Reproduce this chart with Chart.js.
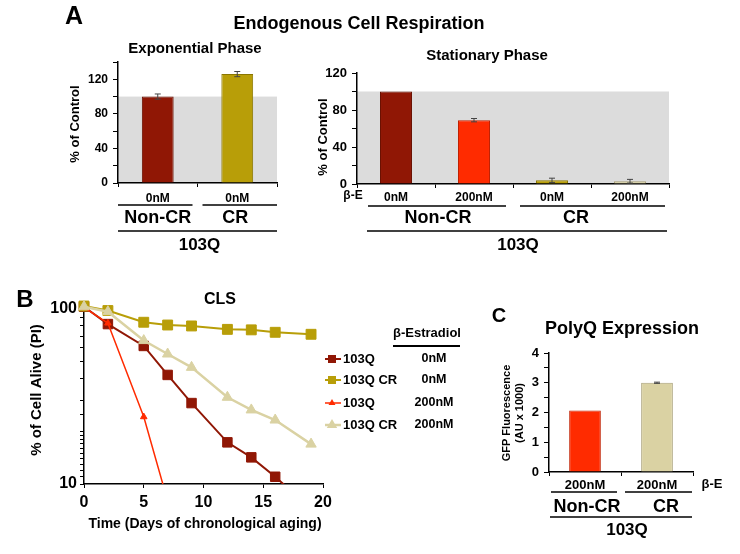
<!DOCTYPE html>
<html>
<head>
<meta charset="utf-8">
<script src="https://cdn.jsdelivr.net/npm/chart.js@4/dist/chart.umd.min.js"></script>
<style>
html, body { margin: 0; padding: 0; background: #fff; }
#wrap { position: relative; width: 740px; height: 554px; }
canvas { position: absolute; left: 0; top: 0; }
</style>
</head>
<body>
<div id="wrap">
  <canvas id="cExp" width="740" height="554"></canvas>
  <canvas id="cStat" width="740" height="554"></canvas>
  <canvas id="cCls" width="740" height="554"></canvas>
  <canvas id="cPoly" width="740" height="554"></canvas>
</div>
<script>
// ---- data ----
const strainLabel = '103Q';

const expLabels = ['0nM', '0nM'];
const expGroups = ['Non-CR', 'CR'];
const expValues = [100, 126];
const expErrors = [3, 3];

const statLabels = ['0nM', '200nM', '0nM', '200nM'];
const statGroups = ['Non-CR', 'CR'];
const statValues = [100, 69, 4, 3];
const statErrors = [0, 1.8, 2.3, 2];

const clsDays = [0, 2, 5, 7, 9, 12, 14, 16, 19];
const cls103Q = [103, 82, 61.5, 42, 29, 17.3, 14.2, 11, 7.2];
const cls103QCR = [104, 98, 84, 81, 80, 76.5, 76, 73.6, 71.7];
const cls103QBE = [102, 83, 24.2, 8];
const cls103QCRBE = [103, 96.5, 66, 55.3, 46.4, 31.3, 26.5, 23.2, 16.9];
const clsNames = ['103Q', '103Q CR', '103Q', '103Q CR'];
const clsDoses = ['0nM', '0nM', '200nM', '200nM'];

const polyLabels = ['200nM', '200nM'];
const polyGroups = ['Non-CR', 'CR'];
const polyValues = [2.07, 3.0];
const polyErrors = [0, 0.02];

// colours
const DARKRED = '#901705', OLIVE = '#B89E08', RED = '#FF2B00', BEIGE = '#DAD2A3';

const FONT = '"Liberation Sans", Arial, Helvetica, sans-serif';
Chart.defaults.font.family = FONT;
Chart.defaults.font.weight = 'bold';
Chart.defaults.color = '#000';
Chart.defaults.animation = false;
Chart.defaults.plugins.legend.display = false;
Chart.defaults.plugins.tooltip.enabled = false;

function txt(ctx, s, x, y, size, align, rot) {
  ctx.save();
  ctx.font = 'bold ' + size + 'px ' + FONT;
  ctx.fillStyle = '#000';
  ctx.textAlign = align || 'center';
  ctx.textBaseline = 'middle';
  ctx.translate(x, y);
  if (rot) ctx.rotate(rot);
  ctx.fillText(s, 0, 0);
  ctx.restore();
}

function hline(ctx, x1, x2, y, w) {
  ctx.save();
  ctx.strokeStyle = '#000';
  ctx.lineWidth = w || 1.5;
  ctx.beginPath();
  ctx.moveTo(x1, y);
  ctx.lineTo(x2, y);
  ctx.stroke();
  ctx.restore();
}

// group labels and lines under a bar chart
function drawGroups(chart, groups, o) {
  const ctx = chart.ctx, x = chart.scales.x, area = chart.chartArea, b = area.bottom;
  const per = x.ticks.length / groups.length;
  const half = (x.getPixelForValue(1) - x.getPixelForValue(0)) / 2;
  groups.forEach((g, i) => {
    const x1 = x.getPixelForValue(i * per) - half;
    const x2 = x.getPixelForValue((i + 1) * per - 1) + half;
    const l = x1 + (i === 0 ? o.outL : o.inner);
    const r = x2 - (i === groups.length - 1 ? o.outR : o.inner);
    hline(ctx, l, r, b + o.dy[0]);
    txt(ctx, g, (x1 + x2) / 2 + o.gx[i], b + o.dy[1], 18);
  });
  hline(ctx, area.left + o.l2[0], area.right - o.l2[1], b + o.dy[2]);
  txt(ctx, strainLabel, (area.left + area.right) / 2 + o.sx, b + o.dy[3], 17);
}

const bandPlugin = {
  id: 'band',
  beforeDraw(chart) {
    const y = chart.scales.y, a = chart.chartArea, ctx = chart.ctx;
    ctx.save();
    ctx.fillStyle = '#DCDCDC';
    ctx.fillRect(a.left, y.getPixelForValue(100), a.right - a.left, y.getPixelForValue(0) - y.getPixelForValue(100));
    ctx.restore();
  }
};

function errPlugin(values, errors) {
  return {
    id: 'err',
    afterDatasetsDraw(chart) {
      const ctx = chart.ctx, y = chart.scales.y;
      const meta = chart.getDatasetMeta(0);
      ctx.save();
      ctx.strokeStyle = '#444';
      ctx.lineWidth = 1;
      meta.data.forEach((bar, i) => {
        if (!errors[i]) return;
        const top = y.getPixelForValue(values[i] + errors[i]);
        const bot = y.getPixelForValue(values[i] - errors[i]);
        ctx.beginPath();
        ctx.moveTo(bar.x, top); ctx.lineTo(bar.x, bot);
        ctx.moveTo(bar.x - 3, top); ctx.lineTo(bar.x + 3, top);
        ctx.moveTo(bar.x - 3, bot); ctx.lineTo(bar.x + 3, bot);
        ctx.stroke();
      });
      ctx.restore();
    }
  };
}

function barChart(id, o) {
  return new Chart(document.getElementById(id), {
    type: 'bar',
    data: {
      labels: o.labels,
      datasets: [{
        data: o.values,
        backgroundColor: o.colors,
        borderColor: o.borders,
        borderWidth: 1,
        barPercentage: o.barPct,
        categoryPercentage: 1
      }]
    },
    options: {
      responsive: false,
      devicePixelRatio: 1,
      layout: { padding: o.pad },
      scales: {
        x: {
          grid: { offset: true, drawOnChartArea: false, color: '#000', tickLength: 4 },
          border: { color: '#000', width: 1.5 },
          ticks: { font: { size: o.xSize, weight: 'bold' }, padding: o.xPad, maxRotation: 0, autoSkip: false },
          afterFit: s => { s.height = 20; }
        },
        y: {
          min: 0, max: o.max,
          grid: { drawOnChartArea: false, color: '#000', tickLength: 5 },
          border: { color: '#000', width: 1.5 },
          ticks: { stepSize: o.step, autoSkip: false, padding: 5, font: { size: o.ySize, weight: 'bold' },
                   callback: v => (o.show(v) ? String(v) : '') },
          afterFit: s => { s.width = 40; }
        }
      }
    },
    plugins: o.plugins
  });
}

// ---- A: exponential phase ----
barChart('cExp', {
  labels: expLabels, values: expValues,
  colors: [DARKRED, OLIVE], borders: ['#6A1000', '#8A7600'],
  barPct: 0.4, max: 140, step: 20, show: v => v % 40 === 0,
  xSize: 12, xPad: 4, ySize: 12,
  pad: { left: 78, right: 463, top: 62, bottom: 351 },
  plugins: [bandPlugin, errPlugin(expValues, expErrors), {
    id: 'annExp',
    afterDraw(chart) {
      const ctx = chart.ctx;
      txt(ctx, 'A', 74, 17, 25);
      txt(ctx, 'Endogenous Cell Respiration', 359, 24, 18);
      txt(ctx, 'Exponential Phase', 195, 49, 15);
      txt(ctx, '% of Control', 75, 124, 13, 'center', -Math.PI / 2);
      drawGroups(chart, expGroups, { outL: 0, inner: 5, outR: 0, l2: [0, 0], dy: [22, 35, 48, 62], gx: [0, -2], sx: 2 });
    }
  }]
});

// ---- A: stationary phase ----
barChart('cStat', {
  labels: statLabels, values: statValues,
  colors: [DARKRED, RED, OLIVE, BEIGE], borders: ['#6A1000', '#C02000', '#8A7600', '#A89F78'],
  barPct: 0.41, max: 120, step: 20, show: v => v % 40 === 0,
  xSize: 12, xPad: 2, ySize: 13,
  pad: { left: 317, right: 71, top: 73, bottom: 350 },
  plugins: [bandPlugin, errPlugin(statValues, statErrors), {
    id: 'annStat',
    afterDraw(chart) {
      const ctx = chart.ctx;
      txt(ctx, 'Stationary Phase', 487, 56, 15);
      txt(ctx, '% of Control', 323, 137, 13, 'center', -Math.PI / 2);
      txt(ctx, 'β-E', 353, 196, 12);
      drawGroups(chart, statGroups, { outL: 11, inner: 7, outR: 4, l2: [10, 2], dy: [22, 34, 47, 61], gx: [3, -15], sx: 5 });
    }
  }]
});

// ---- B: CLS ----
function clsSet(values, color, style, radius, width, order) {
  return {
    data: values.map((v, i) => ({ x: clsDays[i], y: v })),
    borderColor: color, backgroundColor: color,
    pointBackgroundColor: color, pointBorderColor: color,
    pointStyle: style, pointRadius: radius, pointBorderWidth: 1,
    borderWidth: width, order: order,
    clip: { left: 10, top: 10, right: 10, bottom: 0 }
  };
}
const clsSets = [
  clsSet(cls103Q, DARKRED, 'rect', 6.7, 2, 3),
  clsSet(cls103QCR, OLIVE, 'rect', 7, 2, 2),
  clsSet(cls103QBE, RED, 'triangle', 3.8, 1.5, 1),
  clsSet(cls103QCRBE, BEIGE, 'triangle', 6, 2.5, 0)
];

function marker(ctx, style, color, x, y, r) {
  ctx.fillStyle = color;
  ctx.beginPath();
  if (style === 'rect') {
    ctx.rect(x - r, y - r, 2 * r, 2 * r);
  } else {
    ctx.moveTo(x, y - r);
    ctx.lineTo(x + r * 0.87, y + r * 0.5);
    ctx.lineTo(x - r * 0.87, y + r * 0.5);
    ctx.closePath();
  }
  ctx.fill();
}

new Chart(document.getElementById('cCls'), {
  type: 'line',
  data: { datasets: clsSets },
  options: {
    responsive: false,
    devicePixelRatio: 1,
    layout: { padding: { left: 44, right: 417, top: 309, bottom: 40 } },
    scales: {
      x: {
        type: 'linear', min: 0, max: 20,
        grid: { drawOnChartArea: false, color: '#000', tickLength: 4 },
        border: { color: '#000', width: 1.5 },
        ticks: { stepSize: 5, padding: 5, font: { size: 16, weight: 'bold' } },
        afterFit: s => { s.height = 30; }
      },
      y: {
        type: 'logarithmic', min: 10, max: 100,
        grid: { drawOnChartArea: false, color: '#000', tickLength: 4 },
        border: { color: '#000', width: 1.5 },
        ticks: { autoSkip: false, padding: 3, font: { size: 16, weight: 'bold' },
                 callback: v => (v === 10 || v === 100 ? String(v) : '') },
        afterFit: s => { s.width = 40; }
      }
    }
  },
  plugins: [{
    id: 'annCls',
    afterDraw(chart) {
      const ctx = chart.ctx;
      txt(ctx, 'B', 25, 300, 24);
      txt(ctx, 'CLS', 220, 300, 16);
      txt(ctx, '% of Cell Alive (PI)', 37, 390, 15, 'center', -Math.PI / 2);
      txt(ctx, 'Time (Days of chronological aging)', 205, 524, 14);
      // legend
      txt(ctx, 'β-Estradiol', 427, 333, 13);
      hline(ctx, 393, 460, 346, 2);
      const rows = [359, 380, 403, 425];
      chart.data.datasets.forEach((d, i) => {
        const y = rows[i];
        ctx.save();
        ctx.strokeStyle = d.borderColor;
        ctx.lineWidth = d.borderWidth;
        ctx.beginPath(); ctx.moveTo(325, y); ctx.lineTo(341, y); ctx.stroke();
        marker(ctx, d.pointStyle, d.borderColor, 332, y, d.pointStyle === 'rect' ? 4 : (i === 2 ? 4 : 6));
        ctx.restore();
        txt(ctx, clsNames[i], 343, y, 13, 'left');
        txt(ctx, clsDoses[i], 434, y, 12.5);
      });
    }
  }]
});

// ---- C: PolyQ expression ----
barChart('cPoly', {
  labels: polyLabels, values: polyValues,
  colors: [RED, BEIGE], borders: ['#C02000', '#A89F78'],
  barPct: 0.44, max: 4, step: 0.5, show: v => Number.isInteger(v),
  xSize: 13, xPad: 2, ySize: 13,
  pad: { left: 509, right: 47, top: 353, bottom: 62 },
  plugins: [errPlugin(polyValues, polyErrors), {
    id: 'annPoly',
    afterDraw(chart) {
      const ctx = chart.ctx;
      txt(ctx, 'C', 499, 316, 20);
      txt(ctx, 'PolyQ Expression', 622, 329, 18);
      txt(ctx, 'GFP Fluorescence', 507, 413, 11, 'center', -Math.PI / 2);
      txt(ctx, '(AU x 1000)', 520, 413, 11, 'center', -Math.PI / 2);
      txt(ctx, 'β-E', 712, 484, 13);
      drawGroups(chart, polyGroups, { outL: 2, inner: 4, outR: 1, l2: [1, 1], dy: [20, 35, 45, 58], gx: [2, 9], sx: 6 });
    }
  }]
});
</script>
</body>
</html>
